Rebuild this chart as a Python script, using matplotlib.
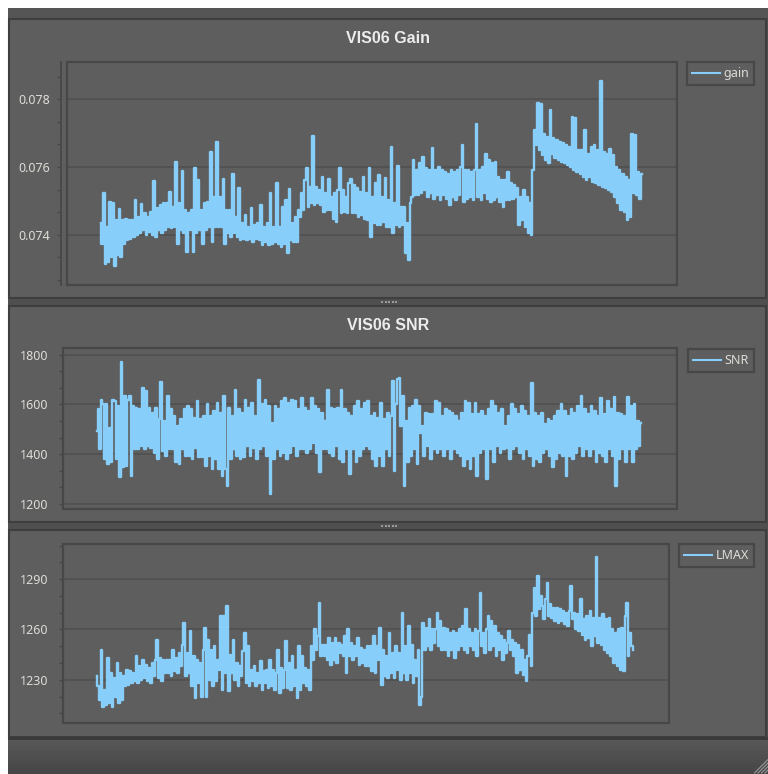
import numpy as np
import matplotlib.pyplot as plt
from matplotlib.patches import Rectangle
from matplotlib.lines import Line2D
from matplotlib.ticker import MultipleLocator, AutoMinorLocator, FormatStrFormatter

plt.rcParams["font.family"] = ["Noto Sans", "DejaVu Sans"]

W, H = 768, 774

# dark viewer theme
FRAME = "#4f4f4f"
PANEL = "#5e5e5e"
EDGE = "#3e3e3e"
BOX = "#474747"
GRID = "#515151"
TEXT = "#dedcd6"
TITLE = "#ececec"
LINE = "#87cefa"

# VIS06 calibration gain per acquisition
gain = [
    0.07434, 0.07374, 0.07522, 0.07315, 0.07424, 0.07320, 0.07496, 0.07335, 0.07493, 0.07307,
    0.07443, 0.07340, 0.07475, 0.07335, 0.07443, 0.07374, 0.07448, 0.07384, 0.07445, 0.07389,
    0.07443, 0.07394, 0.07504, 0.07399, 0.07453, 0.07404, 0.07490, 0.07414, 0.07463, 0.07399,
    0.07453, 0.07409, 0.07468, 0.07399, 0.07560, 0.07394, 0.07478, 0.07414, 0.07488, 0.07404,
    0.07493, 0.07414, 0.07493, 0.07424, 0.07527, 0.07419, 0.07483, 0.07424, 0.07616, 0.07374,
    0.07493, 0.07414, 0.07589, 0.07404, 0.07473, 0.07350, 0.07463, 0.07414, 0.07473, 0.07350,
    0.07596, 0.07404, 0.07562, 0.07414, 0.07473, 0.07374, 0.07493, 0.07414, 0.07498, 0.07424,
    0.07645, 0.07379, 0.07512, 0.07424, 0.07675, 0.07424, 0.07512, 0.07424, 0.07564, 0.07374,
    0.07473, 0.07404, 0.07473, 0.07394, 0.07581, 0.07404, 0.07453, 0.07394, 0.07537, 0.07384,
    0.07434, 0.07389, 0.07458, 0.07384, 0.07424, 0.07389, 0.07478, 0.07379, 0.07429, 0.07389,
    0.07434, 0.07384, 0.07488, 0.07369, 0.07424, 0.07379, 0.07434, 0.07369, 0.07522, 0.07374,
    0.07424, 0.07379, 0.07552, 0.07374, 0.07424, 0.07365, 0.07483, 0.07374, 0.07502, 0.07347,
    0.07534, 0.07384, 0.07434, 0.07379, 0.07453, 0.07379, 0.07473, 0.07453, 0.07522, 0.07473,
    0.07562, 0.07596, 0.07483, 0.07542, 0.07493, 0.07692, 0.07488, 0.07542, 0.07493, 0.07532,
    0.07488, 0.07571, 0.07468, 0.07522, 0.07473, 0.07564, 0.07473, 0.07512, 0.07448, 0.07522,
    0.07438, 0.07532, 0.07596, 0.07463, 0.07532, 0.07468, 0.07512, 0.07463, 0.07552, 0.07566,
    0.07463,
    0.07547, 0.07463, 0.07537, 0.07453, 0.07527, 0.07458, 0.07571, 0.07448, 0.07522, 0.07443,
    0.07598, 0.07394, 0.07512, 0.07434, 0.07552, 0.07429, 0.07578, 0.07429, 0.07512, 0.07438,
    0.07569, 0.07424, 0.07502, 0.07424, 0.07660, 0.07404, 0.07493, 0.07429, 0.07603, 0.07424,
    0.07483, 0.07429, 0.07483, 0.07345, 0.07434, 0.07325, 0.07493, 0.07512, 0.07621, 0.07517,
    0.07591, 0.07517, 0.07611, 0.07522, 0.07631, 0.07532, 0.07596, 0.07512, 0.07591, 0.07522,
    0.07655, 0.07507, 0.07591, 0.07517, 0.07601, 0.07502, 0.07591, 0.07517, 0.07586, 0.07507,
    0.07581, 0.07488, 0.07591, 0.07512, 0.07586, 0.07502, 0.07591, 0.07517, 0.07601, 0.07665,
    0.07498, 0.07591, 0.07507, 0.07591, 0.07512, 0.07586, 0.07502, 0.07591, 0.07726, 0.07512,
    0.07591, 0.07502, 0.07601, 0.07522, 0.07640, 0.07507, 0.07621, 0.07498, 0.07611, 0.07502,
    0.07616, 0.07512, 0.07571, 0.07498, 0.07562, 0.07483, 0.07562, 0.07502, 0.07586, 0.07502,
    0.07552, 0.07507, 0.07547, 0.07512, 0.07537, 0.07429, 0.07512, 0.07443, 0.07532, 0.07424,
    0.07512, 0.07404, 0.07493, 0.07399, 0.07591, 0.07709, 0.07665, 0.07788, 0.07650, 0.07785,
    0.07635, 0.07699, 0.07621, 0.07690, 0.07611, 0.07768, 0.07640, 0.07685, 0.07626, 0.07680,
    0.07621, 0.07675, 0.07616, 0.07670, 0.07611, 0.07665, 0.07606, 0.07660, 0.07601, 0.07749,
    0.07591, 0.07744, 0.07586, 0.07650, 0.07581, 0.07650, 0.07571, 0.07709, 0.07562, 0.07640,
    0.07571, 0.07660, 0.07557, 0.07665, 0.07552, 0.07650, 0.07547, 0.07855, 0.07542, 0.07645,
    0.07537, 0.07640, 0.07532, 0.07652, 0.07527, 0.07635, 0.07512, 0.07601, 0.07493, 0.07591,
    0.07473, 0.07581, 0.07468, 0.07571, 0.07443, 0.07562, 0.07453, 0.07697, 0.07522, 0.07695,
    0.07517, 0.07586, 0.07507, 0.07581,
]

# signal-to-noise ratio per acquisition
snr = [
    1493, 1580, 1420, 1620, 1600, 1380, 1600, 1360, 1507, 1367,
    1620, 1613, 1380, 1593, 1307, 1771, 1347, 1633, 1353, 1620,
    1633, 1313, 1593, 1420, 1587, 1420, 1580, 1433, 1667, 1420,
    1653, 1433, 1587, 1427, 1567, 1407, 1587, 1380, 1540, 1691,
    1413, 1533, 1393, 1633, 1420, 1580, 1420, 1553, 1367, 1513,
    1360, 1540, 1420, 1580, 1393, 1593, 1393, 1580, 1380, 1547,
    1427, 1613, 1387, 1540, 1387, 1553, 1353, 1600, 1393, 1553,
    1340, 1573, 1380, 1607, 1340, 1567, 1313, 1633, 1340, 1273,
    1587, 1380, 1553, 1420, 1660, 1393, 1580, 1380, 1567, 1387,
    1620, 1433, 1587, 1393, 1607, 1427, 1553, 1380, 1700, 1420,
    1600, 1433, 1620, 1393, 1593, 1240, 1527, 1380, 1593, 1420,
    1580, 1393, 1613, 1407, 1627, 1380, 1607, 1407, 1620, 1433,
    1613, 1393, 1580, 1420, 1627, 1420, 1587, 1407, 1573, 1420,
    1627, 1447, 1593, 1407, 1580, 1327, 1567, 1420, 1533, 1420,
    1660, 1407, 1587, 1393, 1580, 1433, 1587, 1380, 1660, 1367,
    1580, 1420, 1567, 1320, 1553, 1420, 1593, 1367, 1613, 1393,
    1580, 1420, 1607, 1433, 1613, 1420,
    1553, 1380, 1567, 1353, 1547, 1393, 1607, 1353, 1540, 1420,
    1567, 1393, 1553, 1693, 1333, 1600, 1703, 1707, 1513, 1633,
    1273, 1533, 1367, 1587, 1393, 1593, 1420, 1620, 1360, 1593,
    1487, 1513, 1393, 1567, 1433, 1560, 1380, 1560, 1420, 1613,
    1407, 1607, 1420, 1553, 1393, 1580, 1420, 1573, 1380, 1567,
    1420, 1553, 1407, 1533, 1393, 1567, 1353, 1613, 1380, 1607,
    1340, 1560, 1393, 1607, 1313, 1560, 1407, 1573, 1420, 1553,
    1300, 1580, 1420, 1613, 1367, 1593, 1433, 1567, 1407, 1580,
    1420, 1513, 1427, 1553, 1380, 1600, 1420, 1580, 1433, 1560,
    1407, 1593, 1380, 1573, 1420, 1553, 1393, 1687, 1353, 1567,
    1380, 1553, 1367, 1567, 1407, 1520, 1420, 1540, 1393, 1533,
    1347, 1553, 1380, 1573, 1407, 1603, 1393, 1573, 1313, 1553,
    1393, 1580, 1380, 1567, 1407, 1593, 1433, 1633, 1393, 1580,
    1420, 1560, 1393, 1593, 1420, 1573, 1367, 1553, 1407, 1627,
    1393, 1560, 1367, 1613, 1420, 1580, 1393, 1631, 1273, 1567,
    1380, 1560, 1420, 1553, 1367, 1629, 1420, 1593, 1367, 1600,
    1420, 1533, 1433, 1527,
]

# maximum radiance per acquisition
lmax = [
    1232, 1226, 1218, 1248, 1214, 1224, 1215, 1243, 1216, 1234,
    1214, 1231, 1220, 1240, 1216, 1234, 1218, 1232, 1226, 1236,
    1227, 1235, 1228, 1234, 1229, 1244, 1228, 1238, 1230, 1242,
    1231, 1239, 1229, 1237, 1228, 1240, 1232, 1242, 1254, 1231,
    1243, 1229, 1242, 1234, 1242, 1234, 1242, 1232, 1248, 1235,
    1243, 1234, 1246, 1238, 1251, 1264, 1232, 1246, 1234, 1259,
    1226, 1244, 1219, 1242, 1228, 1240, 1220, 1248, 1261, 1220,
    1254, 1230, 1248, 1226, 1250, 1229, 1242, 1236, 1268, 1224,
    1268, 1234, 1274, 1223, 1245, 1234, 1254, 1230, 1240, 1226,
    1238, 1232, 1247, 1258, 1228, 1250, 1226, 1236, 1229, 1238,
    1226, 1234, 1228, 1241, 1224, 1235, 1228, 1236, 1225, 1242,
    1226, 1236, 1224, 1234, 1248, 1222, 1237, 1225, 1236, 1253,
    1225, 1240, 1224, 1244, 1226, 1236, 1219, 1250, 1224, 1244,
    1228, 1237, 1226, 1236, 1224, 1250, 1242, 1260, 1248, 1256,
    1276, 1244, 1251, 1244, 1251, 1242, 1255, 1239, 1252, 1242,
    1255, 1240, 1252, 1246, 1251, 1244, 1256, 1234, 1260, 1244,
    1252, 1242, 1250, 1244, 1255, 1239, 1249, 1240, 1248, 1238,
    1250, 1238,
    1250, 1235, 1256, 1234, 1250, 1242, 1261, 1227, 1248, 1232,
    1244, 1231, 1258, 1234, 1246, 1231, 1250, 1236, 1246, 1230,
    1270, 1234, 1250, 1230, 1262, 1234, 1251, 1228, 1242, 1232,
    1248, 1215, 1220, 1264, 1248, 1261, 1250, 1266, 1248, 1260,
    1252, 1260, 1270, 1250, 1265, 1248, 1261, 1248, 1260, 1244,
    1258, 1248, 1259, 1243, 1258, 1248, 1260, 1250, 1262, 1248,
    1272, 1246, 1260, 1250, 1258, 1248, 1260, 1244, 1259, 1282,
    1250, 1258, 1246, 1260, 1268, 1248, 1265, 1250, 1262, 1244,
    1258, 1248, 1256, 1242, 1254, 1246, 1252, 1259, 1248, 1254,
    1244, 1252, 1234, 1251, 1236, 1248, 1233, 1242, 1229, 1244,
    1257, 1238, 1270, 1285, 1268, 1292, 1272, 1280, 1274, 1266,
    1278, 1288, 1268, 1275, 1267, 1273, 1265, 1273, 1264, 1272,
    1265, 1271, 1263, 1270, 1262, 1271, 1286, 1266, 1270, 1260,
    1269, 1259, 1278, 1257, 1266, 1254, 1268, 1255, 1271, 1250,
    1267, 1256, 1303, 1252, 1267, 1251, 1269, 1248, 1266, 1246,
    1267, 1244, 1260, 1240, 1258, 1238, 1260, 1236, 1261, 1235,
    1268, 1276, 1244, 1258, 1250, 1248,
]


def fx(x):
    return x / W


def fy(y):
    return 1 - y / H


def rect(x0, y0, x1, y1, **kw):
    # rectangle given in pixel coords, origin top-left
    fig.add_artist(Rectangle((fx(x0), fy(y1)), fx(x1) - fx(x0), fy(y0) - fy(y1),
                             transform=fig.transFigure, **kw))


fig = plt.figure(figsize=(W / 100, H / 100), dpi=100)
fig.patch.set_facecolor("white")

# window frame, panels and splitters
rect(8, 8, 768, 774, fc=FRAME, ec="none", zorder=0)
rect(8, 8, 768, 18, fc="#555555", ec="none", zorder=0)
for y0, y1 in [(19, 298), (306, 522), (530, 737)]:
    rect(9, y0, 766, y1, fc=PANEL, ec=EDGE, lw=1.5, zorder=0.5)
for ys in (301, 525):
    for i in range(5):
        rect(381 + 3.5 * i, ys, 383 + 3.5 * i, ys + 2, fc="#9a9a9a", ec="none", zorder=1)

# status strip at the bottom
shades = np.linspace(0x58, 0x46, 12)
for i, s in enumerate(shades):
    c = "#%02x%02x%02x" % (int(s), int(s), int(s))
    rect(8, 739 + 3 * i, 768, 742 + 3 * i, fc=c, ec="none", zorder=0.6)
rect(8, 737, 768, 739.5, fc="#3a3a3a", ec="none", zorder=0.7)
for k in range(4):
    d = 3 + 3.5 * k
    fig.add_artist(Line2D([fx(768 - d), fx(768)], [fy(773), fy(773 - d)],
                          transform=fig.transFigure, color="#9a9a9a", lw=0.8, zorder=1))

panels = [
    dict(data=gain, label="gain", title="VIS06 Gain", box=(67, 62, 677, 285),
         span=(100.7, 641.7), ylim=(0.07252, 0.07910), step=0.002, fmt="%.3f",
         offset=4, pad=5.0, legend=(754, 62), title_y=42.7),
    dict(data=snr, label="SNR", title="VIS06 SNR", box=(63, 348, 677, 509),
         span=(96.7, 641.0), ylim=(1180, 1827), step=200, fmt="%d",
         offset=0, pad=7.7, legend=(754, 349), title_y=329.7),
    dict(data=lmax, label="LMAX", title=None, box=(63, 544, 669, 723),
         span=(96.7, 633.3), ylim=(1204.2, 1311), step=30, fmt="%d",
         offset=0, pad=7.8, legend=(754, 544), title_y=None),
]

for p in panels:
    l, t, r, b = p["box"]
    ax = fig.add_axes([fx(l), fy(b), fx(r) - fx(l), fy(t) - fy(b)])
    ax.set_facecolor(PANEL)
    ax.set_zorder(2)

    values = np.asarray(p["data"])
    n = len(values)
    x = np.arange(n)
    per_px = (n - 1) / (p["span"][1] - p["span"][0])
    ax.set_xlim(-(p["span"][0] - l) * per_px, (n - 1) + (r - p["span"][1]) * per_px)
    ax.set_ylim(*p["ylim"])

    # dense acquisitions read as a solid band of vertical strokes
    ax.plot(x, values, color=LINE, lw=1.7, drawstyle="steps-mid", zorder=3)

    ax.set_xticks([])
    ax.yaxis.set_major_locator(MultipleLocator(p["step"]))
    ax.yaxis.set_minor_locator(AutoMinorLocator(3))
    ax.yaxis.set_major_formatter(FormatStrFormatter(p["fmt"]))
    ax.tick_params(axis="y", which="both", length=3, width=1, color=BOX,
                   labelcolor=TEXT, labelsize=9, pad=p["pad"])
    ax.grid(axis="y", which="major", color=GRID, lw=1.3, zorder=1)
    ax.set_axisbelow(True)

    for side in ("top", "right", "bottom"):
        ax.spines[side].set_visible(False)
    ax.spines["left"].set_color(BOX)
    ax.spines["left"].set_linewidth(1.3)
    ax.spines["left"].set_position(("outward", p["offset"]))
    ax.add_patch(Rectangle((0, 0), 1, 1, transform=ax.transAxes, fill=False,
                           ec=BOX, lw=1.6, zorder=4, clip_on=False))

    leg = ax.legend(handles=[Line2D([], [], color=LINE, lw=1.5)], labels=[p["label"]],
                    loc="upper right", bbox_to_anchor=(fx(p["legend"][0]), fy(p["legend"][1])),
                    bbox_transform=fig.transFigure, fancybox=False, framealpha=1,
                    facecolor=PANEL, edgecolor=BOX, fontsize=9, labelcolor=TEXT,
                    handlelength=2.2, handletextpad=0.3, borderpad=0.4, borderaxespad=0)
    leg.get_frame().set_linewidth(1.6)

    if p["title"]:
        fig.text(fx(388), fy(p["title_y"]), p["title"], ha="center", va="baseline",
                 fontsize=11.5, fontweight="bold", color=TITLE, zorder=5,
                 family=["Liberation Sans", "DejaVu Sans"])

fig.savefig("out.png", dpi=100, facecolor=fig.get_facecolor())
